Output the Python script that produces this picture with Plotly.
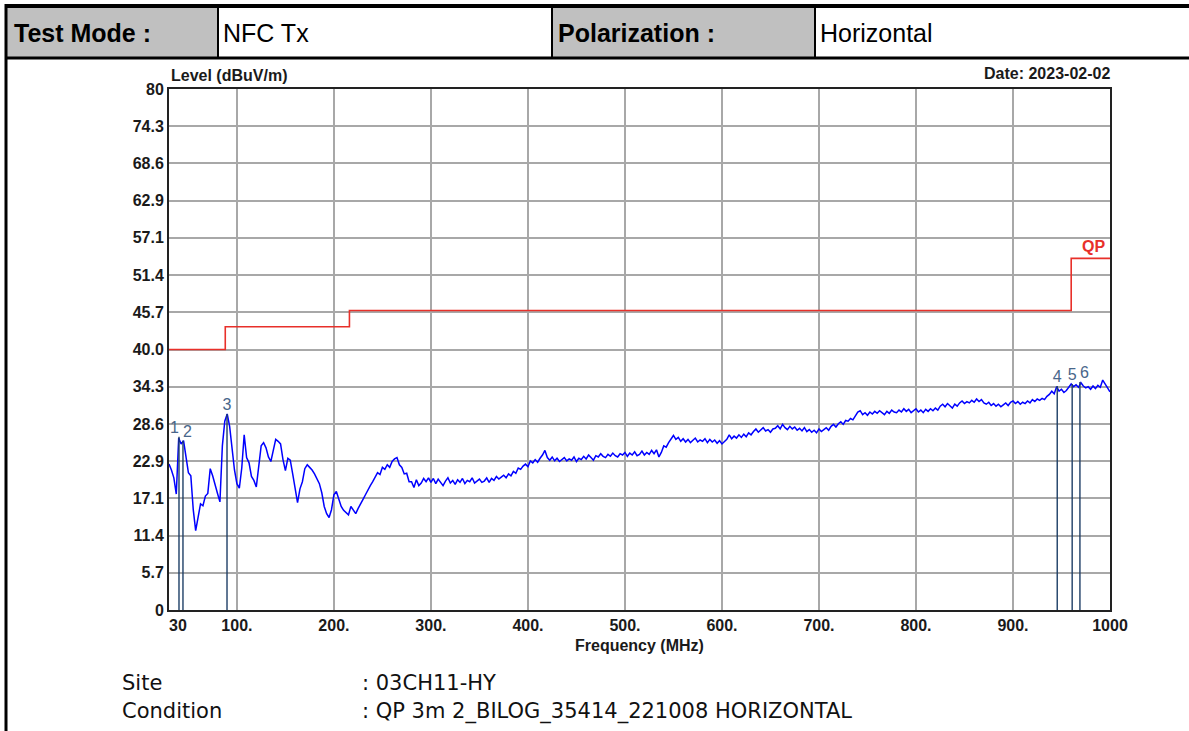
import numpy as np
import plotly.graph_objects as go

# sweep: 30 MHz .. 1000 MHz, 2.5 MHz step
f_start, f_step = 30.0, 2.5
level = [
    22.4, 21.5, 20.3, 17.8, 26.4, 25.5, 26.0, 23.5, 21.1, 20.6,
    15.4, 12.2, 14.4, 16.3, 16.0, 17.5, 17.9, 21.7, 20.6, 19.4,
    17.9, 16.6, 25.2, 29.0, 30.1, 28.2, 24.3, 21.5, 19.4, 18.7,
    21.8, 26.9, 23.4, 22.6, 20.5, 19.9, 18.9, 22.6, 25.2, 25.7,
    24.9, 23.5, 22.8, 24.5, 26.2, 25.9, 25.5, 23.1, 21.4, 23.3,
    23.0, 20.9, 18.4, 16.5, 18.6, 19.7, 21.7, 22.3, 21.9, 21.5,
    20.9, 20.2, 19.4, 18.0, 15.9, 14.8, 14.2, 15.4, 17.7, 18.2,
    17.1, 15.9, 15.3, 14.9, 14.6, 15.9, 15.4, 14.8, 15.6, 16.4,
    17.0, 17.7, 18.5, 19.1, 19.7, 20.4, 21.1, 20.8, 21.9, 21.6,
    22.3, 21.9, 22.8, 23.2, 23.4, 22.3, 21.9, 20.9, 21.0, 19.7,
    19.7, 18.8, 20.0, 19.1, 19.5, 20.2, 19.7, 20.3, 19.6, 20.2,
    19.4, 20.1, 19.6, 19.1, 19.8, 20.3, 19.5, 19.9, 19.3, 20.0,
    19.6, 20.2, 19.4, 19.9, 19.7, 20.3, 19.5, 19.8, 20.1, 19.6,
    19.8, 20.3, 19.6, 20.2, 19.9, 20.5, 20.1, 20.4, 20.7, 20.3,
    20.9, 20.6, 21.3, 21.0, 21.8, 21.6, 22.1, 22.4, 22.0, 22.9,
    22.6, 23.1, 22.7, 23.3, 23.8, 24.5, 23.4, 23.0, 23.5, 22.9,
    23.3, 22.8, 23.1, 23.4, 22.9, 23.2, 23.0, 23.5, 22.8, 23.3,
    23.1, 23.6, 23.2, 23.8, 23.4, 23.0, 23.7, 23.5, 24.0, 23.6,
    23.4, 23.9, 23.6, 24.1, 23.7, 23.5, 24.0, 23.8, 24.2, 23.6,
    24.1, 23.8, 24.3, 23.7, 23.9, 24.4, 23.8, 24.2, 23.9, 24.5,
    24.0, 24.6, 23.5, 24.2, 25.2, 25.0, 25.7, 26.3, 26.8, 26.2,
    26.5, 25.9, 26.3, 25.8, 26.2, 25.7, 26.0, 26.4, 25.8, 26.1,
    25.9, 26.3, 25.7, 26.2, 25.8, 26.1, 25.6, 26.0, 25.5, 25.9,
    26.2, 26.9, 26.3, 26.7, 26.4, 26.9, 26.5, 27.0, 26.6, 27.2,
    26.9, 27.4, 27.8, 27.3, 27.6, 28.0, 27.5, 27.7, 27.3, 27.8,
    27.9, 28.3, 27.8, 28.5, 28.0, 27.7, 28.2, 27.8, 28.1, 27.6,
    27.9, 27.5, 28.0, 27.4, 27.7, 27.3, 27.6, 27.2, 27.8, 27.4,
    27.7, 28.0, 27.6, 28.2, 28.5, 28.1, 28.6, 28.9, 28.5, 29.1,
    29.0, 29.4, 29.2, 29.8, 30.4, 30.6, 30.0, 30.3, 29.9, 30.4,
    30.1, 30.5, 30.2, 30.6, 30.3, 30.0, 30.5, 30.2, 30.7, 30.4,
    30.3, 30.7, 30.4, 30.9, 30.5, 30.8, 30.3, 30.6, 30.9, 30.4,
    30.7, 30.3, 30.8, 30.5, 30.9, 30.6, 31.0, 30.7, 31.3, 31.6,
    31.2, 31.7, 31.4, 31.0, 31.6, 31.3, 31.8, 32.1, 31.7, 32.0,
    31.8, 32.2, 31.9, 32.4, 32.0, 32.3, 31.8, 31.6, 31.9, 31.4,
    31.7, 31.3, 31.6, 31.2, 31.5, 31.8, 31.4, 31.9, 32.1, 31.7,
    32.0, 31.6, 31.9, 31.7, 32.1, 31.8, 32.3, 32.0, 32.4, 32.2,
    32.5, 32.3, 32.8, 33.1, 33.6, 33.2, 34.3, 33.6, 33.9, 33.4,
    33.7, 34.2, 34.7, 34.3, 34.6, 34.2, 34.9, 34.4, 34.1, 34.3,
    33.9, 34.4, 34.0, 34.5, 34.2, 35.3, 34.6, 34.1, 33.5,
]
freq = f_start + f_step * np.arange(len(level))

# QP limit (step line)
limit_freq = [30, 88, 216, 960, 1000]
limit_level = [40.0, 43.5, 46.0, 54.0, 54.0]

# marked peaks
mark_id = ["1", "2", "3", "4", "5", "6"]
mark_freq = [40.3, 44.4, 89.8, 945.6, 961.0, 969.0]
mark_level = [26.6, 26.0, 30.1, 34.4, 34.7, 35.0]
mark_pos = ["top left", "top right", "top center", "top center", "top center", "top right"]

x_ticks = [30, 100, 200, 300, 400, 500, 600, 700, 800, 900, 1000]
x_ticktext = ["\u00a0\u00a0\u00a0\u00a030", "100.", "200.", "300.", "400.", "500.",
              "600.", "700.", "800.", "900.", "1000"]
y_ticktext = ["0", "5.7", "11.4", "17.1", "22.9", "28.6", "34.3", "40.0",
              "45.7", "51.4", "57.1", "62.9", "68.6", "74.3", "80"]
y_ticks = [80 * k / 14 for k in range(15)]

W, H = 1189, 731
L, R, T, B = 169, 1110, 89, 610


def px(x):
    return (x - L) / (R - L)


def py(y):
    return (B - y) / (B - T)


fig = go.Figure()

fig.add_trace(go.Scatter(x=freq, y=level, mode="lines",
                         line=dict(color="#0000ff", width=1.5), showlegend=False))

fig.add_trace(go.Scatter(x=limit_freq, y=limit_level, mode="lines", line_shape="hv",
                         line=dict(color="#e8302a", width=1.6), showlegend=False))

# marker lines
mx, my = [], []
for f, lv in zip(mark_freq, mark_level):
    mx += [f, f, None]
    my += [0, lv, None]
fig.add_trace(go.Scatter(x=mx, y=my, mode="lines",
                         line=dict(color="#1d3e66", width=1.4), showlegend=False))
fig.add_trace(go.Scatter(x=mark_freq, y=mark_level, mode="text", text=mark_id,
                         textposition=mark_pos,
                         textfont=dict(family="Liberation Sans", size=16, color="#48668a"),
                         showlegend=False))

bold = dict(family="Liberation Sans", size=16, color="#1a1a1a", weight="bold")

fig.update_xaxes(range=[30, 1000], tickvals=x_ticks, ticktext=x_ticktext,
                 showgrid=True, gridcolor="#a8a8a8", gridwidth=1.5,
                 showline=True, linecolor="#222", linewidth=2, mirror=True,
                 zeroline=False, tickfont=bold, ticks="")
fig.update_yaxes(range=[0, 80], tickvals=y_ticks, ticktext=y_ticktext,
                 showgrid=True, gridcolor="#a8a8a8", gridwidth=1.5,
                 showline=True, linecolor="#222", linewidth=2, mirror=True,
                 zeroline=False, tickfont=bold, ticks="")

ann = [
    dict(x=0, y=py(76), text="Level (dBuV/m)", xanchor="left", yanchor="middle", font=bold),
    dict(x=px(1112), y=py(73), text="Date: 2023-02-02", xanchor="right", yanchor="middle", font=bold),
    dict(x=0.5, y=py(645), text="Frequency (MHz)", xanchor="center", yanchor="middle", font=bold),
    dict(x=1000, y=54, xref="x", yref="y", text="QP", xanchor="right", yanchor="bottom",
         xshift=-3, yshift=1, showarrow=False,
         font=dict(family="Liberation Sans", size=16, color="#e8302a", weight="bold")),
]
head = dict(family="Liberation Sans", size=25, color="#000000")
ann += [
    dict(x=px(12), y=py(33), text="Test Mode :", xanchor="left", yanchor="middle",
         font=dict(head, weight="bold")),
    dict(x=px(221), y=py(33), text="NFC Tx", xanchor="left", yanchor="middle", font=head),
    dict(x=px(556), y=py(33), text="Polarization :", xanchor="left", yanchor="middle",
         font=dict(head, weight="bold")),
    dict(x=px(818), y=py(33), text="Horizontal", xanchor="left", yanchor="middle", font=head),
]
foot = dict(family="DejaVu Sans", size=21, color="#111111")
ann += [
    dict(x=px(120), y=py(683), text="Site", xanchor="left", yanchor="middle", font=foot),
    dict(x=px(120), y=py(711), text="Condition", xanchor="left", yanchor="middle", font=foot),
    dict(x=px(360), y=py(683), text=": 03CH11-HY", xanchor="left", yanchor="middle", font=foot),
    dict(x=px(360), y=py(711), text=": QP 3m 2_BILOG_35414_221008 HORIZONTAL",
         xanchor="left", yanchor="middle", font=foot),
]
for a in ann:
    a.setdefault("xref", "paper")
    a.setdefault("yref", "paper")
    a.setdefault("showarrow", False)

shapes = [
    # header grey cells
    dict(type="rect", x0=px(7), x1=px(218), y0=py(7), y1=py(58),
         fillcolor="#c0c0c0", line_width=0, layer="below"),
    dict(type="rect", x0=px(552), x1=px(815), y0=py(7), y1=py(58),
         fillcolor="#c0c0c0", line_width=0, layer="below"),
    # header borders
    dict(type="line", x0=px(5), x1=px(1195), y0=py(6), y1=py(6), line=dict(color="#000", width=4)),
    dict(type="line", x0=px(5), x1=px(1195), y0=py(58), y1=py(58), line=dict(color="#000", width=3)),
    dict(type="line", x0=px(218), x1=px(218), y0=py(6), y1=py(58), line=dict(color="#000", width=2)),
    dict(type="line", x0=px(552), x1=px(552), y0=py(6), y1=py(58), line=dict(color="#000", width=2)),
    dict(type="line", x0=px(815), x1=px(815), y0=py(6), y1=py(58), line=dict(color="#000", width=2)),
    # page left border
    dict(type="line", x0=px(6), x1=px(6), y0=py(4), y1=py(740), line=dict(color="#000", width=3)),
]
for s in shapes:
    s["xref"] = "paper"
    s["yref"] = "paper"

fig.update_layout(
    width=W, height=H,
    margin=dict(l=L, r=W - R, t=T, b=H - B),
    paper_bgcolor="white", plot_bgcolor="white",
    annotations=ann, shapes=shapes,
    showlegend=False,
)

fig.write_html("out.html", config={"displayModeBar": False},
               post_script="document.body.style.margin='0px';")
